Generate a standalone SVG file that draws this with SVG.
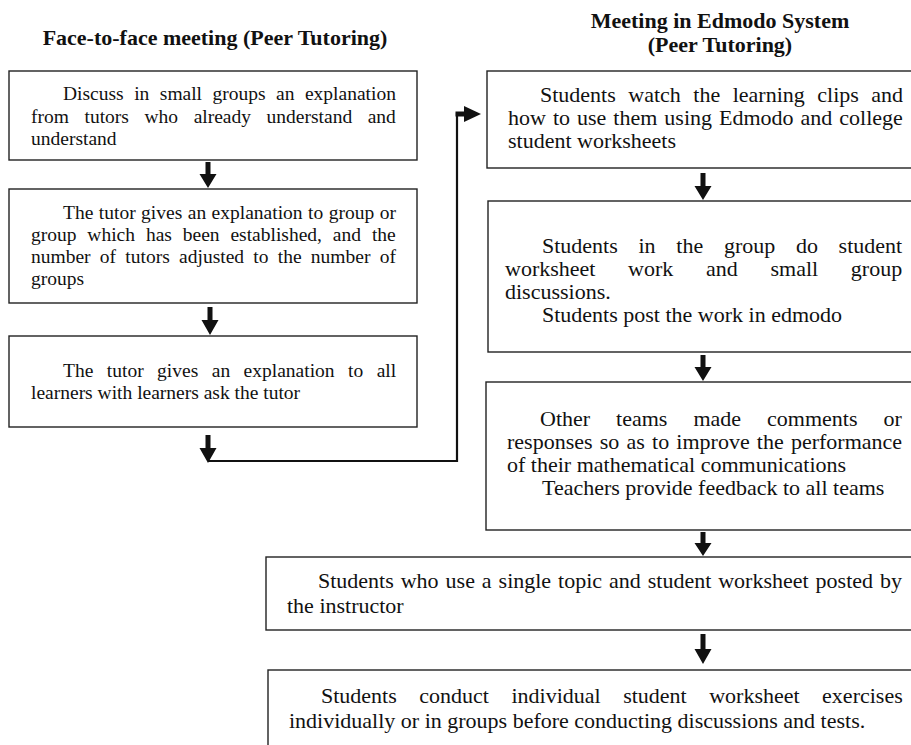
<svg xmlns="http://www.w3.org/2000/svg" width="911" height="745" viewBox="0 0 911 745">
<style>
.bg{fill:#ffffff}
.box{fill:#ffffff;stroke:#222222;stroke-width:1.4}
.t{font-family:"Liberation Serif","Times New Roman",serif;fill:#111111}
.l{font-size:19.5px}
.r{font-size:22px}
.h{font-family:"Liberation Serif","Times New Roman",serif;font-size:22px;font-weight:bold;fill:#111111;text-anchor:middle}
.arr{fill:#111111}
.line{fill:none;stroke:#111111;stroke-width:2.2}
</style>
<rect class="bg" x="0" y="0" width="911" height="745"/>

<g id="title-left">
<text class="h" x="215" y="45">Face-to-face meeting (Peer Tutoring)</text>
</g>
<g id="title-right">
<text class="h" x="720" y="28">Meeting in Edmodo System</text>
<text class="h" x="720" y="52">(Peer Tutoring)</text>
</g>

<g id="node-discuss">
<rect class="box" x="9" y="71" width="408" height="89"/>
<text class="t l" x="63" y="100" style="word-spacing:5.6px">Discuss in small groups an explanation</text>
<text class="t l" x="31" y="122.5" style="word-spacing:10.7px">from tutors who already understand and</text>
<text class="t l" x="31" y="145">understand</text>
</g>

<g id="node-tutor-group">
<rect class="box" x="9" y="189" width="408" height="114"/>
<text class="t l" x="63" y="219" style="word-spacing:0.6px">The tutor gives an explanation to group or</text>
<text class="t l" x="31" y="241" style="word-spacing:6px">group which has been established, and the</text>
<text class="t l" x="31" y="263" style="word-spacing:4.4px">number of tutors adjusted to the number of</text>
<text class="t l" x="31" y="285">groups</text>
</g>

<g id="node-tutor-all">
<rect class="box" x="9" y="336" width="408" height="91"/>
<text class="t l" x="63" y="377" style="word-spacing:8.6px">The tutor gives an explanation to all</text>
<text class="t l" x="31" y="399">learners with learners ask the tutor</text>
</g>

<g id="node-watch">
<rect class="box" x="487" y="71" width="430" height="97"/>
<text class="t r" x="540" y="102" style="word-spacing:7px">Students watch the learning clips and</text>
<text class="t r" x="508" y="125" style="word-spacing:1.5px">how to use them using Edmodo and college</text>
<text class="t r" x="508" y="148">student worksheets</text>
</g>

<g id="node-group-work">
<rect class="box" x="488" y="201" width="430" height="151"/>
<text class="t r" x="542" y="253" style="word-spacing:15.2px">Students in the group do student</text>
<text class="t r" x="505" y="276" style="word-spacing:27.2px">worksheet work and small group</text>
<text class="t r" x="505" y="299">discussions.</text>
<text class="t r" x="542" y="322">Students post the work in edmodo</text>
</g>

<g id="node-comments">
<rect class="box" x="486" y="382" width="432" height="148"/>
<text class="t r" x="540" y="426" style="word-spacing:20.5px">Other teams made comments or</text>
<text class="t r" x="507" y="449" style="word-spacing:1.7px">responses so as to improve the performance</text>
<text class="t r" x="507" y="472">of their mathematical  communications</text>
<text class="t r" x="542" y="495">Teachers provide feedback to all teams</text>
</g>

<g id="node-single-topic">
<rect class="box" x="266" y="557" width="652" height="73"/>
<text class="t r" x="318" y="588" style="word-spacing:1.45px">Students who use a single topic and student worksheet posted by</text>
<text class="t r" x="287" y="613">the instructor</text>
</g>

<g id="node-individual">
<rect class="box" x="268" y="670" width="650" height="90"/>
<text class="t r" x="321" y="703" style="word-spacing:17px">Students conduct individual student worksheet exercises</text>
<text class="t r" x="289" y="728">individually or in groups before conducting discussions and tests.</text>
</g>

<g id="connectors">
<path class="arr" d="M205.5 162 H210.5 V174 H216.5 L208 188 L199.5 174 H205.5 Z"/>
<path class="arr" d="M207.5 307 H212.5 V320 H218.5 L210 335 L201.5 320 H207.5 Z"/>
<path class="arr" d="M205.5 435 H210.5 V448 H216.5 L208 463 L199.5 448 H205.5 Z"/>
<polyline class="line" points="208,461 457,461 457,114 465,114"/>
<path class="arr" d="M455.5 111.5 H464 V106 L481 114 L464 122 V116.5 H455.5 Z"/>
<path class="arr" d="M700.5 173 H705.5 V186 H711.5 L703 200 L694.5 186 H700.5 Z"/>
<path class="arr" d="M700.5 355 H705.5 V367 H711.5 L703 381 L694.5 367 H700.5 Z"/>
<path class="arr" d="M700.5 532 H705.5 V543 H711.5 L703 556 L694.5 543 H700.5 Z"/>
<path class="arr" d="M700.5 634 H705.5 V649 H711.5 L703 664 L694.5 649 H700.5 Z"/>
</g>
</svg>
